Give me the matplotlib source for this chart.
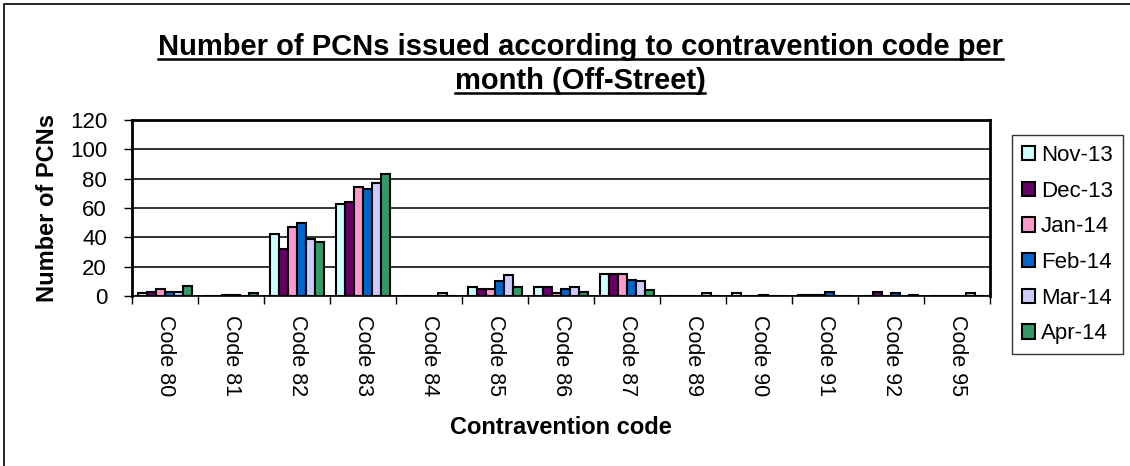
import numpy as np
import matplotlib.pyplot as plt
from matplotlib.lines import Line2D
from matplotlib.patches import Rectangle

codes = ["Code 80", "Code 81", "Code 82", "Code 83", "Code 84", "Code 85", "Code 86",
         "Code 87", "Code 89", "Code 90", "Code 91", "Code 92", "Code 95"]
months = ["Nov-13", "Dec-13", "Jan-14", "Feb-14", "Mar-14", "Apr-14"]
nov13 = [2, 0, 42, 63, 0, 6, 6, 15, 0, 2, 1, 0, 0]
dec13 = [3, 0, 32, 64, 0, 5, 6, 15, 0, 0, 1, 3, 0]
jan14 = [5, 1, 47, 74, 0, 5, 2, 15, 0, 0, 1, 0, 0]
feb14 = [3, 1, 50, 73, 0, 10, 5, 11, 0, 1, 3, 2, 0]
mar14 = [3, 0, 39, 77, 2, 14, 6, 10, 2, 0, 0, 0, 2]
apr14 = [7, 2, 37, 83, 0, 6, 3, 4, 0, 0, 0, 1, 0]
colors = ["#CCFFFF", "#660066", "#FF99CC", "#0066CC", "#CCCCFF", "#339966"]

series = [nov13, dec13, jan14, feb14, mar14, apr14]

plt.rcParams['font.family'] = ['Liberation Sans', 'DejaVu Sans']

fig = plt.figure(figsize=(11.3, 4.66), dpi=100)
ax = fig.add_axes([132 / 1130, 1 - 296 / 466, (990 - 132) / 1130, (296 - 120) / 466])

# chart area border
fig.patches.append(Rectangle((4 / 1130, -0.1), 1.2, 1 - 4 / 466 + 0.1, transform=fig.transFigure,
                             fill=False, edgecolor='black', linewidth=1.2))

x = np.arange(len(codes))
w = 0.82 / 6
for j, vals in enumerate(series):
    ax.bar(x + (j - 2.5) * w, vals, width=w, color=colors[j], edgecolor='black',
           linewidth=1.5, label=months[j], zorder=3)

ax.set_xlim(-0.5, len(codes) - 0.5)
ax.set_ylim(0, 120)
ax.set_yticks(range(0, 121, 20))
ax.yaxis.grid(True, color='#222222', linewidth=1.3, zorder=0)
ax.tick_params(axis='y', labelsize=16, length=6, width=1, pad=12)

ax.set_xticks(x)
ax.set_xticklabels(codes, rotation=270, fontsize=15.5)
ax.tick_params(axis='x', which='major', length=0, pad=14)
ax.set_xticks(np.arange(-0.5, len(codes), 1), minor=True)
ax.tick_params(axis='x', which='minor', length=6, width=1)

for s in ['left', 'right', 'top']:
    ax.spines[s].set_linewidth(2)
ax.spines['bottom'].set_linewidth(1.2)

ax.set_ylabel("Number of PCNs", fontsize=17, fontweight='bold', labelpad=8)
ax.set_xlabel("Contravention code", fontsize=17, fontweight='bold', labelpad=14)

leg = ax.legend(loc='upper left', bbox_to_anchor=(1012 / 1130, 1 - 135 / 466),
                bbox_transform=fig.transFigure, fontsize=16, frameon=True, fancybox=False,
                edgecolor='black', handlelength=0.6, handleheight=0.6, handletextpad=0.25,
                labelspacing=0.66, borderpad=0.45, borderaxespad=0)
leg.get_frame().set_linewidth(1)

t1 = fig.text(580 / 1130, 1 - 47 / 466, "Number of PCNs issued according to contravention code per",
              ha='center', va='center', fontsize=21, fontweight='bold')
t2 = fig.text(580 / 1130, 1 - 81 / 466, "month (Off-Street)",
              ha='center', va='center', fontsize=21, fontweight='bold')

# underline the title lines
renderer = fig.canvas.get_renderer()
for t in (t1, t2):
    bb = t.get_window_extent(renderer).transformed(fig.transFigure.inverted())
    fig.add_artist(Line2D([bb.x0, bb.x1], [bb.y0 + 0.004, bb.y0 + 0.004],
                          transform=fig.transFigure, color='black', linewidth=1.8))

fig.savefig("out.png", dpi=100)
